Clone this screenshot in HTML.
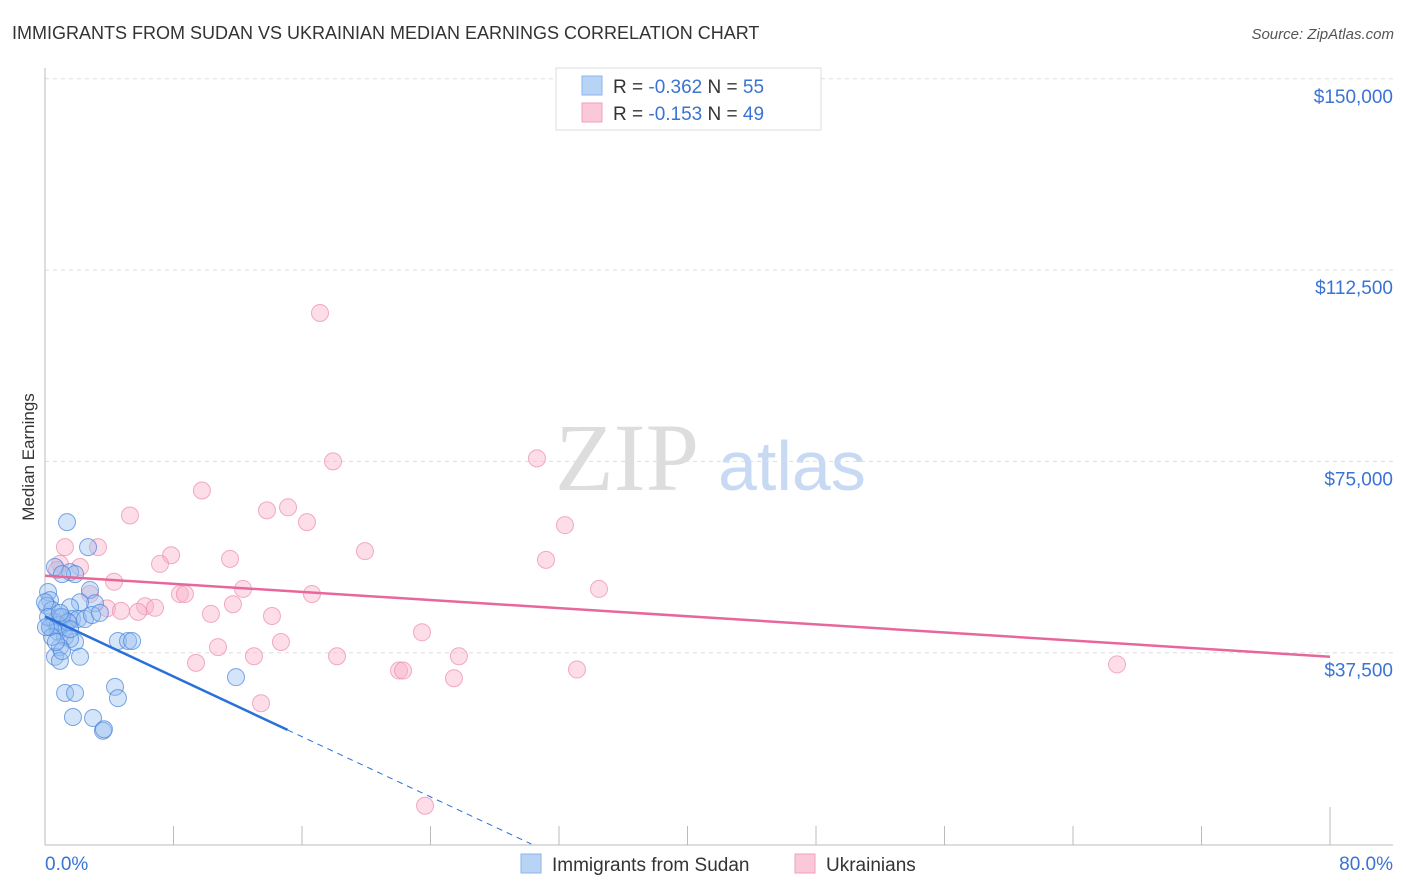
<!DOCTYPE html>
<html><head><meta charset="utf-8"><style>
body{margin:0;background:#fff;font-family:"Liberation Sans",sans-serif;}
#wrap{position:relative;width:1406px;height:892px;overflow:hidden;}
</style></head><body>
<div id="wrap">
<svg id="svg" width="1406" height="892">
<text x="12" y="39" font-size="18" fill="#333">IMMIGRANTS FROM SUDAN VS UKRAINIAN MEDIAN EARNINGS CORRELATION CHART</text>
<text x="1394" y="39" font-size="15" fill="#555" font-style="italic" text-anchor="end">Source: ZipAtlas.com</text>
<text x="34" y="457" font-size="17" fill="#333" text-anchor="middle" transform="rotate(-90 34 457)">Median Earnings</text>
<text x="555" y="490" font-size="96" fill="#ddd" font-family="Liberation Serif,serif">ZIP</text>
<text x="718" y="490" font-size="70" fill="#c8daf3">atlas</text>
<g id="grid"></g><g id="axes"></g><g id="pts"></g><g id="lines"></g>
<g>
<rect x="556" y="68" width="265" height="62" fill="#fff" stroke="#ddd"/>
<rect x="582" y="76" width="20" height="19" fill="#b8d4f5" stroke="#8ab4ea"/>
<rect x="582" y="103" width="20" height="19" fill="#fac8d8" stroke="#f0a0b8"/>
<text x="613" y="93" font-size="19" fill="#333">R = <tspan fill="#3a73d4">-0.362</tspan>   N = <tspan fill="#3a73d4">55</tspan></text>
<text x="613" y="120" font-size="19" fill="#333">R =  <tspan fill="#3a73d4">-0.153</tspan>   N = <tspan fill="#3a73d4">49</tspan></text>
</g>
<g>
<rect x="521" y="854" width="20" height="19" fill="#b8d4f5" stroke="#8ab4ea"/>
<text x="552" y="871" font-size="19" fill="#333">Immigrants from Sudan</text>
<rect x="795" y="854" width="20" height="19" fill="#fac8d8" stroke="#f0a0b8"/>
<text x="826" y="871" font-size="19" fill="#333">Ukrainians</text>
</g>
</svg>
</div>
<script>
const yTicks=[37500,75000,112500,150000];
const yTickLabels=["$37,500","$75,000","$112,500","$150,000"];
const xTickLabels=["0.0%","80.0%"];
const sudanX=[1.37,2.68,0.62,1.56,1.87,1.06,0.19,0.31,0.12,0.44,2.80,3.11,2.18,1.56,0.93,0.62,1.25,1.68,2.05,2.49,2.93,0.31,0.81,1.25,1.87,1.56,0.93,2.18,0.62,0.93,1.06,4.54,5.17,5.42,11.89,1.25,1.87,4.36,4.54,1.74,2.99,3.61,3.67,0.31,0,0.19,0.81,1.06,1.43,1.56,0.44,0.68,0.06,0.93,3.42];
const sudanY=[63100,58200,54300,53300,52900,52900,49400,47800,46700,45900,49800,47200,47400,46400,44500,43500,42500,44100,44100,44100,44900,42500,41600,40600,39600,40200,38600,36700,36700,35900,37800,39800,39800,39800,32700,29600,29600,30800,28600,24900,24700,22200,22500,42500,47400,44500,42900,44500,43500,42100,40600,39600,42500,45300,45300];
const ukrX=[17.12,17.93,30.63,9.77,5.29,13.82,15.13,16.31,32.37,1.24,3.30,7.85,11.52,7.16,19.92,31.19,0.93,2.18,4.30,12.33,34.49,8.40,8.71,2.80,16.62,6.23,6.85,11.70,3.86,4.73,5.79,10.33,14.13,1.37,23.47,14.69,10.77,18.18,25.77,13.01,9.40,33.12,22.04,22.29,25.46,66.74,13.45,23.66,0.75];
const ukrY=[104100,75000,75600,69300,64400,65400,66000,63100,62500,58200,58200,56600,55900,54900,57400,55700,54900,54300,51400,50000,50000,49000,49000,49000,49000,46600,46300,47000,46200,45700,45500,45100,44700,43700,41500,39600,38600,36800,36800,36800,35500,34200,34000,34000,32500,35200,27600,7500,53700];
const X0=45,X1=1330,Y0=844,PPU=191.3/37500;
const xs=v=>X0+v/80*(X1-X0), ys=v=>Y0-v*PPU;
const NS="http://www.w3.org/2000/svg";
function mk(tag,at,parent){const e=document.createElementNS(NS,tag);for(const k in at)e.setAttribute(k,at[k]);document.getElementById(parent).appendChild(e);return e;}
yTicks.forEach((t,i)=>{
 const l=mk('line',{x1:45,x2:1393,y1:ys(t),y2:ys(t),stroke:'#ddd','stroke-dasharray':'4 4'},'grid');
 
 
 const tx=mk('text',{x:1393,y:ys(t)+24,'font-size':19,fill:'#3a73d4','text-anchor':'end'},'axes');
 tx.textContent=yTickLabels[i];
 
 
});
let a=mk('line',{x1:45,x2:45,y1:68,y2:845,stroke:'#bbb'},'axes');


a=mk('line',{x1:45,x2:1393,y1:845,y2:845,stroke:'#bbb'},'axes');


for(let i=1;i<=10;i++){
 const x=xs(i*8);
 const tk=mk('line',{x1:x,x2:x,y1:i==10?807:826,y2:845,stroke:'#bbb'},'axes');
 
 
}
let t=mk('text',{x:45,y:870,'font-size':19,fill:'#3a73d4'},'axes');t.textContent=xTickLabels[0];


t=mk('text',{x:1393,y:870,'font-size':19,fill:'#3a73d4','text-anchor':'end'},'axes');t.textContent=xTickLabels[1];


ukrX.forEach((v,i)=>{
 const c=mk('circle',{cx:xs(v),cy:ys(ukrY[i]),r:8.5,fill:'rgba(248,180,204,0.45)',stroke:'rgba(236,140,170,0.7)'},'pts');
 
 
});
sudanX.forEach((v,i)=>{
 const c=mk('circle',{cx:xs(v),cy:ys(sudanY[i]),r:8.5,fill:'rgba(150,190,240,0.4)',stroke:'rgba(70,130,220,0.7)'},'pts');
 
 
});
function fit(X,Y){const n=X.length;let mx=0,my=0;X.forEach((x,i)=>{mx+=x;my+=Y[i]});mx/=n;my/=n;let sxy=0,sxx=0;X.forEach((x,i)=>{sxy+=(x-mx)*(Y[i]-my);sxx+=(x-mx)**2});const b=sxy/sxx;return [my-b*mx,b];}
const [ua,ub]=fit(ukrX,ukrY);
let L=mk('line',{x1:xs(0),y1:ys(ua),x2:xs(80),y2:ys(ua+ub*80),stroke:'#e8679a','stroke-width':2.5},'lines');


const [sa,sb]=fit(sudanX,sudanY);
const xe=15.1,xz=-sa/sb;
L=mk('line',{x1:xs(0),y1:ys(sa),x2:xs(xe),y2:ys(sa+sb*xe),stroke:'#2a70d8','stroke-width':2.5},'lines');


L=mk('line',{x1:xs(xe),y1:ys(sa+sb*xe),x2:xs(xz),y2:ys(0),stroke:'#2a70d8','stroke-width':1,'stroke-dasharray':'6 5'},'lines');


</script>
</body></html>
